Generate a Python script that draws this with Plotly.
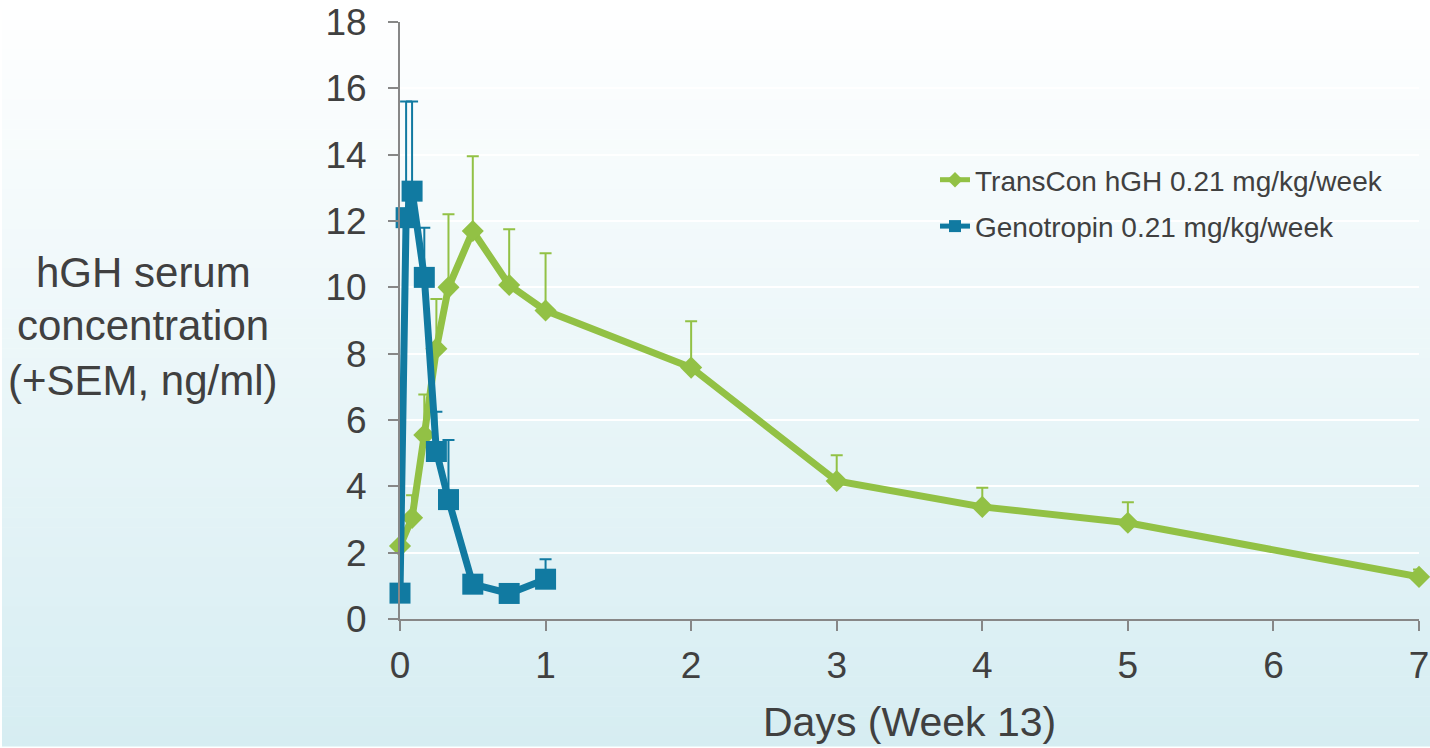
import plotly.graph_objects as go

# ---- data ----
days_transcon = [0, 0.083, 0.167, 0.25, 0.333, 0.5, 0.75, 1, 2, 3, 4, 5, 7]
transcon = [2.2, 3.05, 5.55, 8.15, 10.0, 11.7, 10.07, 9.3, 7.58, 4.16, 3.38, 2.9, 1.27]
transcon_sem = [0.1, 0.68, 1.22, 1.5, 2.2, 2.25, 1.68, 1.73, 1.4, 0.78, 0.58, 0.62, 0.22]

days_geno = [0, 0.042, 0.083, 0.167, 0.25, 0.333, 0.5, 0.75, 1]
geno = [0.78, 12.1, 12.9, 10.3, 5.05, 3.6, 1.05, 0.77, 1.2]
geno_sem = [0.1, 3.5, 2.7, 1.5, 1.2, 1.8, 0.15, 0.15, 0.6]

name_transcon = "TransCon hGH 0.21 mg/kg/week"
name_geno = "Genotropin 0.21 mg/kg/week"
y_ticks = [0, 2, 4, 6, 8, 10, 12, 14, 16, 18]
x_ticks = [0, 1, 2, 3, 4, 5, 6, 7]
y_title_lines = ["hGH serum", "concentration", "(+SEM, ng/ml)"]
x_title = "Days (Week 13)"

GREEN = "#92C145"
BLUE = "#117AA1"
TEXT = "#404040"
AXIS = "#878787"
FONT = "Liberation Sans, Arial, sans-serif"

W, H = 1430, 748
L, R, T, B = 400, 11, 22, 129
PW = W - L - R
PH = H - T - B


def px_to_paper_x(px):
    return (px - L) / PW


def px_to_paper_y(py):
    return (H - B - py) / PH


fig = go.Figure()

fig.add_trace(go.Scatter(
    x=days_transcon, y=transcon, name=name_transcon, mode="lines+markers",
    line=dict(color=GREEN, width=7),
    marker=dict(symbol="diamond", size=17, color=GREEN, line=dict(width=0)),
    error_y=dict(type="data", symmetric=False, array=transcon_sem,
                 arrayminus=[0] * len(transcon_sem), color=GREEN,
                 thickness=2, width=6),
    cliponaxis=False, legendgroup="a",
))
fig.add_trace(go.Scatter(
    x=days_geno, y=geno, name=name_geno, mode="lines+markers",
    line=dict(color=BLUE, width=7),
    marker=dict(symbol="square", size=21, color=BLUE, line=dict(width=0)),
    error_y=dict(type="data", symmetric=False, array=geno_sem,
                 arrayminus=[0] * len(geno_sem), color=BLUE,
                 thickness=2, width=6),
    cliponaxis=False, legendgroup="b",
))

# gradient background (white at top to pale cyan at bottom)
shapes = []
N = 75
top_c = (255, 255, 255)
bot_c = (214, 237, 242)
y_end = 746
for i in range(N):
    p0 = y_end * i / N
    p1 = y_end * (i + 1) / N
    f = (p0 + p1) / 2 / H
    c = tuple(round(top_c[k] + (bot_c[k] - top_c[k]) * f) for k in range(3))
    shapes.append(dict(
        type="rect", xref="paper", yref="paper", layer="below",
        x0=px_to_paper_x(2), x1=px_to_paper_x(W + 2),
        y0=px_to_paper_y(p1 + 0.5), y1=px_to_paper_y(p0),
        fillcolor="rgb(%d,%d,%d)" % c, line=dict(width=0),
    ))

annotations = []
for line, py in zip(y_title_lines, [272, 325, 380]):
    annotations.append(dict(
        text=line, xref="paper", yref="paper",
        x=px_to_paper_x(143), y=px_to_paper_y(py),
        xanchor="center", yanchor="middle", showarrow=False,
        font=dict(family=FONT, size=42, color=TEXT),
    ))
annotations.append(dict(
    text=x_title, xref="paper", yref="paper",
    x=px_to_paper_x(909), y=px_to_paper_y(722),
    xanchor="center", yanchor="middle", showarrow=False,
    font=dict(family=FONT, size=41, color=TEXT),
))

fig.update_layout(
    width=W, height=H,
    margin=dict(l=L, r=R, t=T, b=B, autoexpand=False),
    paper_bgcolor="white",
    plot_bgcolor="rgba(0,0,0,0)",
    font=dict(family=FONT, color=TEXT),
    shapes=shapes,
    annotations=annotations,
    showlegend=True,
    legend=dict(
        x=px_to_paper_x(935), y=px_to_paper_y(155),
        xanchor="left", yanchor="top",
        bgcolor="rgba(0,0,0,0)",
        font=dict(family=FONT, size=28, color=TEXT),
        traceorder="grouped", tracegroupgap=7,
        itemsizing="constant",
    ),
    xaxis=dict(
        range=[0, 7], tickvals=x_ticks, ticktext=[str(v) for v in x_ticks],
        showgrid=False, zeroline=False, automargin=False,
        showline=True, linecolor=AXIS, linewidth=2,
        ticks="outside", ticklen=10, tickwidth=2, tickcolor=AXIS,
        tickfont=dict(family=FONT, size=37, color=TEXT),
        ticklabelstandoff=3,
    ),
    yaxis=dict(
        range=[0, 18], tickvals=y_ticks, ticktext=[str(v) for v in y_ticks],
        showgrid=True, gridcolor="white", gridwidth=2, zeroline=False,
        automargin=False,
        showline=True, linecolor=AXIS, linewidth=2,
        ticks="outside", ticklen=10, tickwidth=2, tickcolor=AXIS,
        tickfont=dict(family=FONT, size=37, color=TEXT),
        ticklabelstandoff=14,
    ),
)

fig.write_html("out.html")
